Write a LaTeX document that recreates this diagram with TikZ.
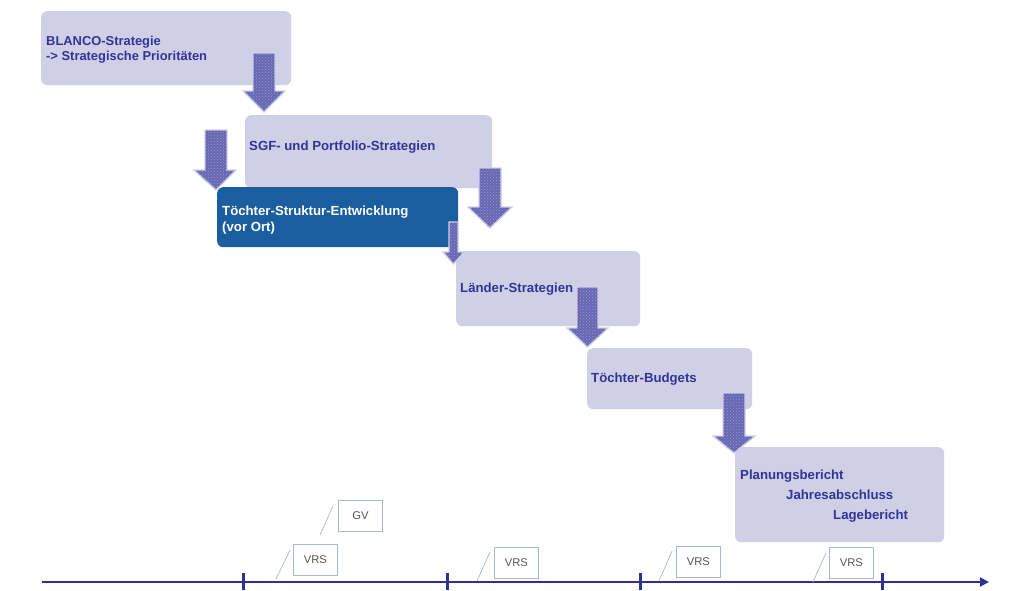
\documentclass[tikz,border=0pt]{standalone}
\usepackage{fontspec}
\setmainfont{Liberation Sans}
\usetikzlibrary{arrows.meta,patterns}
\definecolor{boxfill}{HTML}{CFCFE6}
\definecolor{boxtext}{HTML}{333399}
\definecolor{darkbox}{HTML}{1B5EA0}
\definecolor{arrfill}{HTML}{6767B3}
\definecolor{arrdot}{HTML}{9696D0}
\definecolor{arredge}{HTML}{D2D2EA}
\definecolor{lineblue}{HTML}{2E3192}
\definecolor{callout}{HTML}{A9B5D9}
\definecolor{callouttext}{HTML}{555555}
\tikzset{
  box/.style={fill=boxfill, draw=none, rounded corners=6pt, anchor=north west, inner sep=0pt},
  dbox/.style={box, fill=darkbox},
  btext/.style={anchor=base west, inner sep=0pt, text=boxtext, font=\bfseries\fontsize{13.2}{15}\selectfont},
  wtext/.style={btext, text=white},
  blockarr/.style={fill=arrfill, draw=arredge, line width=1.4pt, line join=miter},
  blockpat/.style={pattern=crosshatch dots, pattern color=arrdot, draw=none},
  tl/.style={draw=lineblue, line width=2pt},
  tick/.style={draw=lineblue, line width=3pt},
  cbox/.style={draw=callout, line width=0.8pt, fill=white, minimum width=44pt, minimum height=31pt, inner sep=0pt, anchor=north west, text=callouttext, font=\fontsize{11.2}{13}\selectfont},
  cline/.style={draw=callout, line width=0.7pt}
}
\newcommand{\barrow}[8]{% xl xr ytop hl hr yhead tipy name
  \path[blockarr] (#1,#3) -- (#2,#3) -- (#2,#6) -- (#5,#6) -- ({(#1+#2)/2},#7) -- (#4,#6) -- (#1,#6) -- cycle;
  \path[blockpat] (#1,#3) -- (#2,#3) -- (#2,#6) -- (#5,#6) -- ({(#1+#2)/2},#7) -- (#4,#6) -- (#1,#6) -- cycle;
  \coordinate (#8) at ({(#1+#2)/2},#7);
}
\begin{document}
\begin{tikzpicture}[x=1pt,y=-1pt]
\useasboundingbox (0,0) rectangle (1021,590);
% boxes
\node[box, minimum width=250pt, minimum height=74pt] (b1) at (41,11) {};
\node[box, minimum width=247pt, minimum height=73pt] (b2) at (245,115) {};
\node[dbox, minimum width=241pt, minimum height=60pt] (b3) at (217,187) {};
\node[box, minimum width=184pt, minimum height=75pt] (b4) at (456,251) {};
\node[box, minimum width=165pt, minimum height=61pt] (b5) at (587,348) {};
\node[box, minimum width=209pt, minimum height=95pt] (b6) at (735,447) {};
% block arrows
\barrow{253}{275}{53}{243}{285}{91}{112}{a1}
\barrow{205}{227}{130}{194}{236}{170}{190}{a2}
\barrow{479}{501}{168}{468}{512}{207}{228}{a3}
\barrow{449}{458}{222}{443}{464}{252}{264}{a4}
\barrow{577}{598}{287}{567}{608}{328}{347}{a5}
\barrow{723}{745}{393}{713}{755}{436}{453}{a6}
% texts
\node[btext, font=\bfseries\fontsize{12.9}{15}\selectfont] (t1a) at (46,45) {BLANCO-Strategie};
\node[btext, font=\bfseries\fontsize{12.9}{15}\selectfont] (t1b) at (46,60) {-> Strategische Prioritäten};
\node[btext] (t2) at (249,150) {SGF- und Portfolio-Strategien};
\node[wtext] (t3a) at (222,215) {Töchter-Struktur-Entwicklung};
\node[wtext] (t3b) at (222,231) {(vor Ort)};
\node[btext] (t4) at (460,292.5) {Länder-Strategien};
\node[btext] (t5) at (591,382.5) {Töchter-Budgets};
\node[btext] (t6a) at (740,479) {Planungsbericht};
\node[btext] (t6b) at (786,499) {Jahresabschluss};
\node[btext] (t6c) at (833,519) {Lagebericht};
% timeline
\coordinate (l0) at (42,582);
\coordinate (l1) at (989,582);
\draw[tl, -{Triangle[length=9pt,width=9pt]}] (l0) -- (l1);
\foreach \x/\n in {243/k1,447/k2,640/k3,882/k4}{
  \coordinate (\n a) at (\x,573);
  \coordinate (\n b) at (\x,590);
  \draw[tick] (\n a) -- (\n b);
}
% callouts
\node[cbox] (gv) at (338,500) {GV};
\node[cbox] (v1) at (293,544) {VRS};
\node[cbox] (v2) at (494,547) {VRS};
\node[cbox] (v3) at (676,546) {VRS};
\node[cbox] (v4) at (829,547) {VRS};
\coordinate (g0) at (320,535); \coordinate (g1) at (333,506);
\coordinate (c10) at (276,579); \coordinate (c11) at (290,550);
\coordinate (c20) at (477,581); \coordinate (c21) at (490,552);
\coordinate (c30) at (659,581); \coordinate (c31) at (672,551);
\coordinate (c40) at (813,582); \coordinate (c41) at (826,553);
\draw[cline] (g0) -- (g1);
\draw[cline] (c10) -- (c11);
\draw[cline] (c20) -- (c21);
\draw[cline] (c30) -- (c31);
\draw[cline] (c40) -- (c41);
\end{tikzpicture}
\end{document}
